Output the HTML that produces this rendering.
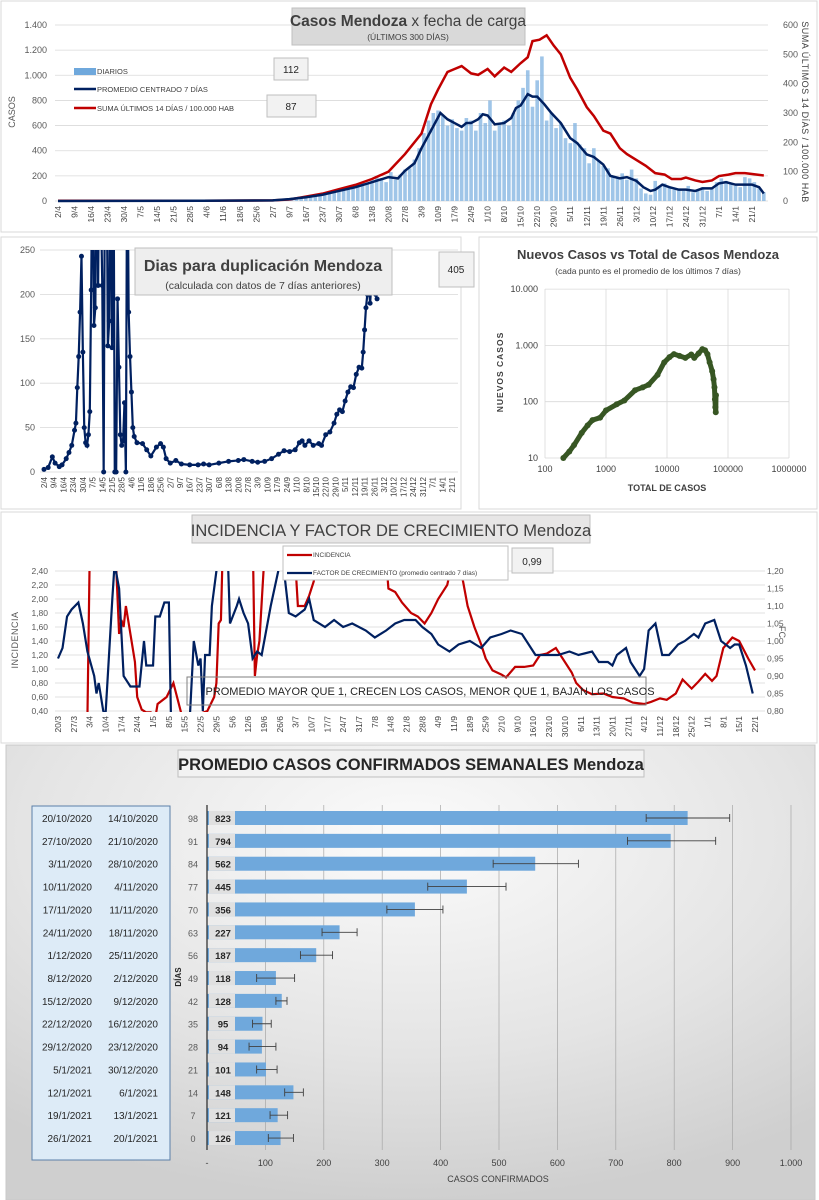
<!DOCTYPE html>
<html><head><meta charset="utf-8">
<style>
html,body{margin:0;padding:0;background:#fff;}
svg{display:block;font-family:"Liberation Sans",sans-serif;}
</style></head>
<body>
<svg id="root" width="819" height="1200" viewBox="0 0 819 1200" xmlns="http://www.w3.org/2000/svg">
<defs>
<radialGradient id="bg4" cx="50%" cy="20%" r="80%">
<stop offset="0" stop-color="#fbfbfb"/><stop offset="0.6" stop-color="#e4e4e4"/><stop offset="1" stop-color="#cfcfcf"/>
</radialGradient>
<clipPath id="c1"><rect x="55" y="20" width="715" height="183"/></clipPath>
<clipPath id="c2"><rect x="40" y="250" width="420" height="225"/></clipPath>
<clipPath id="c3"><rect x="55" y="571" width="712" height="141"/></clipPath>
</defs>
<rect x="1" y="1" width="816" height="231" fill="#fff" stroke="#d9d9d9"/>
<rect x="1" y="237" width="460" height="272" fill="#fff" stroke="#d9d9d9"/>
<rect x="479" y="237" width="338" height="272" fill="#fff" stroke="#d9d9d9"/>
<rect x="1" y="512" width="816" height="231" fill="#fff" stroke="#d9d9d9"/>
<rect x="6" y="745" width="809" height="455" fill="url(#bg4)" stroke="#c8c8c8"/>
<g id="g1"></g>
<g id="g2"></g>
<g id="g3"></g>
<g id="g4"></g>
<g id="g5"></g>
</svg>
<script>
// ===== Panel 1 data =====
const p1BarStartDay = 91;
const p1Bars = [5,8,10,15,20,25,30,35,40,50,55,60,70,90,100,
100,110,120,130,150,140,170,200,180,150,230,170,210,250,260,330,
420,540,640,700,720,680,600,650,580,560,660,640,560,700,620,
800,560,620,640,600,700,800,900,1040,750,960,1150,640,700,580,
620,500,460,620,450,420,300,420,320,280,260,200,180,220,170,
250,180,100,60,50,160,120,140,110,90,100,80,120,70,90,110,
80,100,150,180,160,140,120,110,190,180,150,100,70];
const p1AvgDates = ["2/4","2/6","2/7","9/7","16/7","23/7","30/7","6/8","13/8","20/8","24/8","27/8","31/8","3/9","7/9","11/9","14/9","17/9","20/9","22/9","24/9","27/9","29/9","1/10","4/10","8/10","11/10","13/10","15/10","18/10","20/10","22/10","25/10","28/10","1/11","5/11","8/11","12/11","15/11","19/11","22/11","26/11","29/11","3/12","6/12","9/12","11/12","14/12","17/12","21/12","24/12","28/12","31/12","4/1","7/1","10/1","14/1","18/1","21/1","24/1","26/1"];
const p1AvgVals = [0,2,5,15,30,50,80,110,150,190,180,240,300,420,560,700,650,620,590,620,620,650,690,680,610,620,660,740,760,850,830,830,770,700,620,500,460,370,350,290,200,180,190,160,110,80,90,130,110,90,90,80,100,100,140,150,130,130,130,110,60];
const p1SumDates = ["2/4","2/6","2/7","9/7","16/7","23/7","30/7","6/8","13/8","20/8","27/8","3/9","7/9","10/9","14/9","17/9","20/9","24/9","27/9","1/10","4/10","8/10","11/10","15/10","18/10","20/10","23/10","26/10","29/10","1/11","5/11","8/11","12/11","15/11","19/11","22/11","26/11","29/11","3/12","7/12","11/12","15/12","18/12","22/12","24/12","28/12","31/12","4/1","7/1","11/1","14/1","18/1","21/1","26/1"];
const p1SumVals = [1,1,2,5,15,25,40,55,75,100,160,230,330,380,440,450,460,435,430,450,425,455,440,470,490,545,550,565,530,500,420,380,320,290,240,230,180,160,140,120,95,90,75,75,80,70,65,70,85,90,95,95,92,87];
const p1LeftTicks = [0,200,400,600,800,1000,1200,1400];
const p1LeftLabels = ["0","200","400","600","800","1.000","1.200","1.400"];
const p1RightTicks = [0,100,200,300,400,500,600];
const p1XLabels = ["2/4","9/4","16/4","23/4","30/4","7/5","14/5","21/5","28/5","4/6","11/6","18/6","25/6","2/7","9/7","16/7","23/7","30/7","6/8","13/8","20/8","27/8","3/9","10/9","17/9","24/9","1/10","8/10","15/10","22/10","29/10","5/11","12/11","19/11","26/11","3/12","10/12","17/12","24/12","31/12","7/1","14/1","21/1"];

// ===== Panel 2 data =====
const p2Dates = ["2/4","5/4","8/4","10/4","13/4","15/4","18/4","20/4","22/4","24/4","25/4","26/4","27/4","28/4","29/4","30/4","1/5","2/5","3/5","4/5","5/5","6/5","7/5","8/5","9/5","10/5","11/5","12/5","14/5","15/5","16/5","17/5","18/5","19/5","20/5","21/5","22/5","23/5","24/5","25/5","26/5","27/5","28/5","29/5","30/5","31/5","1/6","2/6","3/6","4/6","5/6","6/6","8/6","12/6","15/6","18/6","22/6","25/6","27/6","29/6","2/7","6/7","10/7","16/7","22/7","26/7","30/7","6/8","13/8","20/8","24/8","30/8","3/9","8/9","13/9","18/9","22/9","26/9","30/9","3/10","5/10","7/10","10/10","13/10","17/10","19/10","22/10","25/10","28/10","30/10","1/11","3/11","5/11","7/11","9/11","11/11","13/11","15/11","17/11","18/11","19/11","20/11","21/11","22/11","23/11","24/11","26/11","27/11","28/11"];
const p2Vals = [3,5,17,10,6,8,15,22,30,47,55,95,130,180,243,135,50,33,30,42,68,205,400,165,185,400,210,400,210,0,400,400,142,170,400,140,400,0,0,195,118,42,30,35,78,0,400,180,130,90,50,40,33,32,25,18,28,32,28,15,10,13,9,8,8,9,8,10,12,13,14,12,11,12,15,20,24,23,25,33,35,30,35,30,32,30,42,45,55,65,70,68,80,90,96,95,110,118,117,135,160,185,200,210,190,215,230,200,195];
const p2Ticks = [0,50,100,150,200,250];
const p2XLabels = ["2/4","9/4","16/4","23/4","30/4","7/5","14/5","21/5","28/5","4/6","11/6","18/6","25/6","2/7","9/7","16/7","23/7","30/7","6/8","13/8","20/8","27/8","3/9","10/9","17/9","24/9","1/10","8/10","15/10","22/10","29/10","5/11","12/11","19/11","26/11","3/12","10/12","17/12","24/12","31/12","7/1","14/1","21/1"];

// ===== Panel 3 (log-log) data =====
const p3Total = [200,250,300,400,500,600,800,1000,1500,2000,3000,4000,5000,7000,9000,11000,13000,16000,20000,25000,28000,33000,38000,42000,46000,50000,55000,58000,60000,61000,62000,63000,63500];
const p3New = [10,13,17,28,38,47,52,70,90,105,160,180,200,300,500,620,700,650,600,690,600,720,860,820,700,500,350,250,180,110,80,65,130];
const p3YTicks = [10,100,1000,10000];
const p3YLabels = ["10","100","1.000","10.000"];
const p3XTicks = [100,1000,10000,100000,1000000];

// ===== Panel 4 (incidence) data =====
const p4FcDays = [0,2,4,6,9,11,13,16,17,18,20,21,24,25,27,29,32,36,38,39,42,43,45,47,49,50,58,60,62,63,64,65,67,68,71,75,76,79,80,82,84,86,88,90,94,96,99,102,105,109,111,113,118,122,126,130,136,140,145,149,153,158,161,165,168,173,177,182,187,191,196,200,205,211,215,221,226,230,236,239,243,245,247,251,253,257,259,261,264,267,270,274,277,281,283,286,290,293,297,299,301,304,307];
const p4FcVals = [0.95,0.98,1.07,1.09,1.11,1.05,0.97,0.9,0.85,0.88,0.80,0.79,1.12,1.22,1.15,0.9,0.87,0.87,1.0,0.93,0.93,1.07,1.07,1.11,1.11,0.75,0.75,1.0,0.93,0.95,0.8,0.96,0.96,1.1,1.25,1.25,1.05,1.1,1.12,1.08,1.05,0.95,0.97,0.96,1.1,1.16,1.25,1.08,1.07,1.09,1.12,1.06,1.04,1.06,1.04,1.05,1.03,1.01,1.03,1.05,1.06,1.06,1.04,1.02,0.99,0.97,0.99,1.0,0.98,1.01,1.02,1.03,1.02,0.96,0.96,0.96,0.97,0.96,0.97,0.94,0.94,0.93,0.96,0.98,0.94,0.9,0.92,1.03,1.05,0.96,0.96,0.99,1.0,1.02,1.01,1.05,1.06,1.0,0.98,0.99,0.99,0.93,0.85];
const p4IncDays = [13,14,15,25,27,28,29,30,31,32,34,35,37,39,41,43,44,48,51,55,62,66,69,70,71,72,73,86,87,88,89,91,92,104,106,109,111,113,115,117,144,146,149,152,156,159,162,165,168,172,174,176,179,181,184,187,189,192,196,198,202,206,210,213,216,220,223,227,229,232,236,241,245,250,254,259,262,266,269,273,276,280,283,286,289,291,294,298,301,305,308];
const p4IncVals = [0.3,2.6,3.0,3.0,1.5,1.7,1.6,1.9,1.7,1.5,1.1,0.6,0.42,0.38,0.38,0.3,0.5,0.6,0.8,0.3,0.35,0.4,0.6,0.8,1.65,1.7,3.0,3.0,0.9,1.2,1.4,2.5,3.0,3.0,1.9,1.9,2.05,2.25,2.6,3.0,3.0,2.15,2.1,1.95,1.8,1.75,1.65,1.8,2.0,2.2,2.5,2.6,2.25,1.9,1.6,1.35,1.15,0.98,0.92,0.88,1.03,1.03,1.05,1.2,1.22,1.3,1.15,0.95,0.8,0.7,0.64,0.65,0.6,0.58,0.52,0.5,0.53,0.58,0.56,0.65,0.85,0.72,0.82,0.93,0.83,0.9,1.3,1.45,1.4,1.15,0.98];
const p4LeftTicks = [0.4,0.6,0.8,1.0,1.2,1.4,1.6,1.8,2.0,2.2,2.4];
const p4RightTicks = [0.80,0.85,0.90,0.95,1.00,1.05,1.10,1.15,1.20];
const p4XLabels = ["20/3","27/3","3/4","10/4","17/4","24/4","1/5","8/5","15/5","22/5","29/5","5/6","12/6","19/6","26/6","3/7","10/7","17/7","24/7","31/7","7/8","14/8","21/8","28/8","4/9","11/9","18/9","25/9","2/10","9/10","16/10","23/10","30/10","6/11","13/11","20/11","27/11","4/12","11/12","18/12","25/12","1/1","8/1","15/1","22/1"];

// ===== Panel 5 (weekly bars) data =====
const p5From = ["20/10/2020","27/10/2020","3/11/2020","10/11/2020","17/11/2020","24/11/2020","1/12/2020","8/12/2020","15/12/2020","22/12/2020","29/12/2020","5/1/2021","12/1/2021","19/1/2021","26/1/2021"];
const p5To = ["14/10/2020","21/10/2020","28/10/2020","4/11/2020","11/11/2020","18/11/2020","25/11/2020","2/12/2020","9/12/2020","16/12/2020","23/12/2020","30/12/2020","6/1/2021","13/1/2021","20/1/2021"];
const p5Days = [98,91,84,77,70,63,56,49,42,35,28,21,14,7,0];
const p5Vals = [823,794,562,445,356,227,187,118,128,95,94,101,148,121,126];
const p5ErrLo = [752,720,490,378,308,197,160,85,118,78,72,85,133,108,105];
const p5ErrHi = [895,871,636,512,404,257,215,150,137,110,118,120,165,138,148];
const p5Ticks = [0,100,200,300,400,500,600,700,800,900,1000];
const p5TickLabels = ["-","100","200","300","400","500","600","700","800","900","1.000"];

const NS = "http://www.w3.org/2000/svg";
function mk(parent, tag, attrs, txt){
  const e = document.createElementNS(NS, tag);
  for (const k in attrs) e.setAttribute(k, attrs[k]);
  if (txt !== undefined) e.textContent = txt;
  parent.appendChild(e);
  return e;
}
const cum = {1:0,2:31,3:60,4:91,5:121,6:152,7:182,8:213,9:244,10:274,11:305,12:335};
function doy(s){ const p = s.split("/"); const d=+p[0], m=+p[1]; let v = cum[m]+d; if (m<3) v += 366; return v; }
const base1 = doy("2/4");
function dayIdx(s){ return doy(s) - base1; }

// ---------- Panel 1 ----------
(function(){
  const g = document.getElementById('g1');
  const x = d => 58 + d*(694/294);
  const yL = v => 201 - v*(176/1400);
  const yR = v => 201 - v*(176/600);
  p1LeftTicks.forEach((t,i)=>{
    const l = mk(g,'line',{x1:55,x2:768,y1:yL(t),y2:yL(t),stroke:'#d9d9d9','stroke-width':0.8});
    
    
    const tx = mk(g,'text',{x:47,y:yL(t)+3,'font-size':9,'text-anchor':'end',fill:'#595959'},p1LeftLabels[i]);
    
    
  });
  p1RightTicks.forEach(t=>{
    const tx = mk(g,'text',{x:783,y:yR(t)+3,'font-size':9,fill:'#595959'},String(t));
    
    
  });
  p1XLabels.forEach(s=>{
    const xx = x(dayIdx(s));
    const tx = mk(g,'text',{x:0,y:0,'font-size':8.5,'text-anchor':'end',fill:'#404040',transform:`translate(${xx+3},206) rotate(-90)`},s);
    
    
  });
  const bars = mk(g,'g',{'clip-path':'url(#c1)'});
  
  
  p1Bars.forEach((v,i)=>{
    const d = p1BarStartDay + i*2;
    const b = mk(bars,'rect',{x:x(d)-1.8,y:yL(v),width:3.6,height:201-yL(v),fill:'#7fb2e0',opacity:0.75});
    
    
  });
  const red = mk(g,'polyline',{points:p1SumDates.map((s,i)=>x(dayIdx(s))+','+yR(p1SumVals[i])).join(' '),fill:'none',stroke:'#c00000','stroke-width':2.5,'clip-path':'url(#c1)'});
  
  
  const blue = mk(g,'polyline',{points:p1AvgDates.map((s,i)=>x(dayIdx(s))+','+yL(p1AvgVals[i])).join(' '),fill:'none',stroke:'#002060','stroke-width':2.5,'clip-path':'url(#c1)'});
  
  
  const yt = mk(g,'text',{x:0,y:0,'font-size':9,fill:'#595959','text-anchor':'middle',transform:'translate(15,112) rotate(-90)'},'CASOS');
  
  
  const yt2 = mk(g,'text',{x:0,y:0,'font-size':9,fill:'#404040','text-anchor':'middle','letter-spacing':'0.5',transform:'translate(802,112) rotate(90)'},'SUMA  ÚLTIMOS 14 DÍAS / 100.000 HAB');
  
  
  const tb = mk(g,'rect',{x:292,y:8,width:233,height:37,fill:'#d9d9d9',stroke:'#bfbfbf'});
  
  
  const t1 = mk(g,'text',{x:408,y:26,'font-size':15.5,fill:'#404040','text-anchor':'middle'});
  
  
  mk(t1,'tspan',{'font-weight':'bold'},'Casos Mendoza');
  mk(t1,'tspan',{},' x fecha de carga');
  const t2 = mk(g,'text',{x:408,y:40,'font-size':8.5,fill:'#404040','text-anchor':'middle'},'(ÚLTIMOS 300 DÍAS)');
  
  
  const lg = mk(g,'g',{});
  
  
  mk(lg,'rect',{x:74,y:68,width:22,height:7,fill:'#6fa8dc'});
  mk(lg,'text',{x:97,y:74,'font-size':7.5,fill:'#404040'},'DIARIOS');
  mk(lg,'line',{x1:74,x2:96,y1:89,y2:89,stroke:'#002060','stroke-width':2.5});
  mk(lg,'text',{x:97,y:92,'font-size':7.5,fill:'#404040'},'PROMEDIO CENTRADO 7 DÍAS');
  mk(lg,'line',{x1:74,x2:96,y1:108,y2:108,stroke:'#c00000','stroke-width':2.5});
  mk(lg,'text',{x:97,y:111,'font-size':7.5,fill:'#404040'},'SUMA ÚLTIMOS 14 DÍAS / 100.000 HAB');
  const b1 = mk(g,'rect',{x:274,y:58,width:34,height:22,fill:'#f2f2f2',stroke:'#bfbfbf'});
  
  
  mk(g,'text',{x:291,y:73,'font-size':10,'text-anchor':'middle',fill:'#262626'},'112');
  const b2 = mk(g,'rect',{x:267,y:95,width:49,height:22,fill:'#f2f2f2',stroke:'#bfbfbf'});
  
  
  mk(g,'text',{x:291,y:110,'font-size':10,'text-anchor':'middle',fill:'#262626'},'87');
})();

// ---------- Panel 2 ----------
(function(){
  const g = document.getElementById('g2');
  const x = d => 44 + d*(408/294);
  const y = v => 472 - v*(222/250);
  p2Ticks.forEach(t=>{
    const l = mk(g,'line',{x1:40,x2:458,y1:y(t),y2:y(t),stroke:'#d9d9d9','stroke-width':0.8});
    
    
    const tx = mk(g,'text',{x:35,y:y(t)+3,'font-size':9,'text-anchor':'end',fill:'#595959'},String(t));
    
    
  });
  p2XLabels.forEach(s=>{
    const xx = x(dayIdx(s));
    const tx = mk(g,'text',{x:0,y:0,'font-size':8,'text-anchor':'end',fill:'#404040',transform:`translate(${xx+3},477) rotate(-90)`},s);
    
    
  });
  const cg = mk(g,'g',{'clip-path':'url(#c2)'});
  
  
  const pl = mk(cg,'polyline',{points:p2Dates.map((s,i)=>x(dayIdx(s))+','+y(p2Vals[i])).join(' '),fill:'none',stroke:'#002060','stroke-width':2.2});
  
  
  p2Dates.forEach((s,i)=>{
    const c = mk(cg,'circle',{cx:x(dayIdx(s)),cy:y(p2Vals[i]),r:2.5,fill:'#002060'});
    
    
  });
  const tb = mk(g,'rect',{x:135,y:248,width:257,height:47,fill:'#eeeeee',stroke:'#bfbfbf'});
  
  
  const t1 = mk(g,'text',{x:263,y:271,'font-size':16,'font-weight':'bold',fill:'#404040','text-anchor':'middle'},'Dias para duplicación Mendoza');
  
  
  const t2 = mk(g,'text',{x:263,y:289,'font-size':10.5,fill:'#404040','text-anchor':'middle'},'(calculada con datos de 7 días anteriores)');
  
  
  const b = mk(g,'rect',{x:439,y:252,width:35,height:35,fill:'#f2f2f2',stroke:'#bfbfbf'});
  
  
  mk(g,'text',{x:456,y:273,'font-size':10,'text-anchor':'middle',fill:'#262626'},'405');
})();

// ---------- Panel 3 ----------
(function(){
  const g = document.getElementById('g3');
  const x = v => 545 + (Math.log10(v)-2)*61;
  const y = v => 458 - (Math.log10(v)-1)*56.3;
  p3YTicks.forEach((t,i)=>{
    const l = mk(g,'line',{x1:545,x2:789,y1:y(t),y2:y(t),stroke:'#d9d9d9','stroke-width':0.8});
    
    
    const tx = mk(g,'text',{x:538,y:y(t)+3,'font-size':9,'text-anchor':'end',fill:'#404040'},p3YLabels[i]);
    
    
  });
  p3XTicks.forEach(t=>{
    const l = mk(g,'line',{x1:x(t),x2:x(t),y1:289,y2:458,stroke:'#d9d9d9','stroke-width':0.8});
    
    
    const tx = mk(g,'text',{x:x(t),y:472,'font-size':9,'text-anchor':'middle',fill:'#404040'},String(t));
    
    
  });
  const pl = mk(g,'polyline',{points:p3Total.map((t,i)=>x(t)+','+y(p3New[i])).join(' '),fill:'none',stroke:'#375623','stroke-width':5,'stroke-linejoin':'round'});
  
  
  p3Total.forEach((t,i)=>{
    const c = mk(g,'circle',{cx:x(t),cy:y(p3New[i]),r:3,fill:'#375623'});
    
    
  });
  const t1 = mk(g,'text',{x:648,y:259,'font-size':13,'font-weight':'bold',fill:'#404040','text-anchor':'middle'},'Nuevos Casos vs Total de Casos Mendoza');
  
  
  const t2 = mk(g,'text',{x:648,y:274,'font-size':8.5,fill:'#404040','text-anchor':'middle'},'(cada punto es el promedio de los últimos 7 días)');
  
  
  const yt = mk(g,'text',{x:0,y:0,'font-size':8.5,'font-weight':'bold',fill:'#404040','text-anchor':'middle','letter-spacing':'1',transform:'translate(503,372) rotate(-90)'},'NUEVOS  CASOS');
  
  
  const xt = mk(g,'text',{x:667,y:491,'font-size':9,'font-weight':'bold',fill:'#404040','text-anchor':'middle'},'TOTAL DE CASOS');
  
  
})();

// ---------- Panel 4 ----------
(function(){
  const g = document.getElementById('g4');
  const x = d => 58 + d*(697/308);
  const yL = v => 711 - (v-0.4)*70;
  const yR = v => 711 - (v-0.8)*350;
  p4LeftTicks.forEach(t=>{
    const l = mk(g,'line',{x1:55,x2:765,y1:yL(t),y2:yL(t),stroke:'#d9d9d9','stroke-width':0.8});
    
    
    const tx = mk(g,'text',{x:48,y:yL(t)+3,'font-size':8.5,'text-anchor':'end',fill:'#595959'},t.toFixed(2).replace('.',','));
    
    
  });
  p4RightTicks.forEach(t=>{
    const tx = mk(g,'text',{x:767,y:yR(t)+3,'font-size':8.5,fill:'#595959'},t.toFixed(2).replace('.',','));
    
    
  });
  p4XLabels.forEach((s,i)=>{
    const xx = x(i*7);
    const tx = mk(g,'text',{x:0,y:0,'font-size':8.5,'text-anchor':'end',fill:'#404040',transform:`translate(${xx+3},716) rotate(-90)`},s);
    
    
  });
  const red = mk(g,'polyline',{points:p4IncDays.map((d,i)=>x(d)+','+yL(p4IncVals[i])).join(' '),fill:'none',stroke:'#c00000','stroke-width':2.2,'clip-path':'url(#c3)'});
  
  
  const blue = mk(g,'polyline',{points:p4FcDays.map((d,i)=>x(d)+','+yR(p4FcVals[i])).join(' '),fill:'none',stroke:'#002060','stroke-width':2.2,'clip-path':'url(#c3)'});
  
  
  const yt = mk(g,'text',{x:0,y:0,'font-size':9,fill:'#595959','text-anchor':'middle','letter-spacing':'0.5',transform:'translate(18,640) rotate(-90)'},'INCIDENCIA');
  
  
  const yt2 = mk(g,'text',{x:0,y:0,'font-size':9,fill:'#595959','text-anchor':'middle',transform:'translate(779,632) rotate(90)'},'FC');
  
  
  const tb = mk(g,'rect',{x:192,y:515,width:398,height:28,fill:'#e7e6e6',stroke:'#bfbfbf'});
  
  
  const t1 = mk(g,'text',{x:391,y:536,'font-size':16.5,fill:'#404040','text-anchor':'middle'},'INCIDENCIA Y FACTOR DE CRECIMIENTO Mendoza');
  
  
  const lg = mk(g,'g',{});
  
  
  mk(lg,'rect',{x:283,y:546,width:225,height:34,fill:'#fff',stroke:'#bfbfbf'});
  mk(lg,'line',{x1:287,x2:312,y1:555,y2:555,stroke:'#c00000','stroke-width':2.2});
  mk(lg,'text',{x:313,y:557,'font-size':6.5,fill:'#404040'},'INCIDENCIA');
  mk(lg,'line',{x1:287,x2:312,y1:573,y2:573,stroke:'#002060','stroke-width':2.2});
  mk(lg,'text',{x:313,y:575,'font-size':6.5,fill:'#404040'},'FACTOR DE CRECIMIENTO (promedio centrado 7 días)');
  const vb = mk(g,'rect',{x:512,y:548,width:41,height:25,fill:'#f2f2f2',stroke:'#bfbfbf'});
  
  
  mk(g,'text',{x:532,y:565,'font-size':10,'text-anchor':'middle',fill:'#262626'},'0,99');
  const ab = mk(g,'rect',{x:187,y:677,width:459,height:28,fill:'none',stroke:'#7f7f7f'});
  
  
  const at = mk(g,'text',{x:430,y:695,'font-size':11,fill:'#262626','text-anchor':'middle'},'PROMEDIO MAYOR QUE 1, CRECEN LOS CASOS, MENOR QUE 1, BAJAN LOS CASOS');
  
  
})();

// ---------- Panel 5 ----------
(function(){
  const g = document.getElementById('g5');
  const x = v => 207 + v*0.584;
  const yc = i => 818 + i*22.86;
  const tb = mk(g,'rect',{x:178,y:750,width:466,height:27,fill:'#f2f2f2',stroke:'#bfbfbf'});
  
  
  const t1 = mk(g,'text',{x:411,y:770,'font-size':16.5,'font-weight':'bold',fill:'#262626','text-anchor':'middle'},'PROMEDIO CASOS CONFIRMADOS SEMANALES Mendoza');
  
  
  const tbl = mk(g,'rect',{x:32,y:806,width:138,height:354,fill:'#ddebf7',stroke:'#5b7fa8'});
  
  
  p5Ticks.forEach((t,i)=>{
    if (t>0){
      const l = mk(g,'line',{x1:x(t),x2:x(t),y1:805,y2:1150,stroke:'#a6a6a6','stroke-width':0.7});
      
      
    }
    const tx = mk(g,'text',{x:x(t),y:1166,'font-size':9,'text-anchor':'middle',fill:'#404040'},p5TickLabels[i]);
    
    
  });
  p5Vals.forEach((v,i)=>{
    const cy = yc(i);
    const r1 = mk(g,'text',{x:92,y:cy+4,'font-size':10,'text-anchor':'end',fill:'#262626'},p5From[i]);
    
    
    const r2 = mk(g,'text',{x:158,y:cy+4,'font-size':10,'text-anchor':'end',fill:'#262626'},p5To[i]);
    
    
    const dl = mk(g,'text',{x:193,y:cy+4,'font-size':9,'text-anchor':'middle',fill:'#595959'},String(p5Days[i]));
    
    
    const b = mk(g,'rect',{x:x(0),y:cy-7,width:x(v)-x(0),height:14,fill:'#6fa8dc'});
    
    
    const lb = mk(g,'rect',{x:209,y:cy-7,width:26,height:14,fill:'#e0e0e0'});
    
    
    const lt = mk(g,'text',{x:223,y:cy+4,'font-size':9.5,'font-weight':'bold','text-anchor':'middle',fill:'#262626'},String(v));
    
    
    const e = mk(g,'path',{d:`M${x(p5ErrLo[i])},${cy} H${x(p5ErrHi[i])} M${x(p5ErrLo[i])},${cy-4} V${cy+4} M${x(p5ErrHi[i])},${cy-4} V${cy+4}`,stroke:'#404040','stroke-width':0.9,fill:'none'});
    
    
  });
  const ax = mk(g,'line',{x1:207,x2:207,y1:805,y2:1150,stroke:'#262626','stroke-width':1.2});
  
  
  const yt = mk(g,'text',{x:0,y:0,'font-size':8,'font-weight':'bold',fill:'#262626','text-anchor':'middle',transform:'translate(181,977) rotate(-90)'},'DÍAS');
  
  
  const xt = mk(g,'text',{x:498,y:1182,'font-size':9,fill:'#404040','text-anchor':'middle'},'CASOS CONFIRMADOS');
  
  
})();
</script>
</body></html>
